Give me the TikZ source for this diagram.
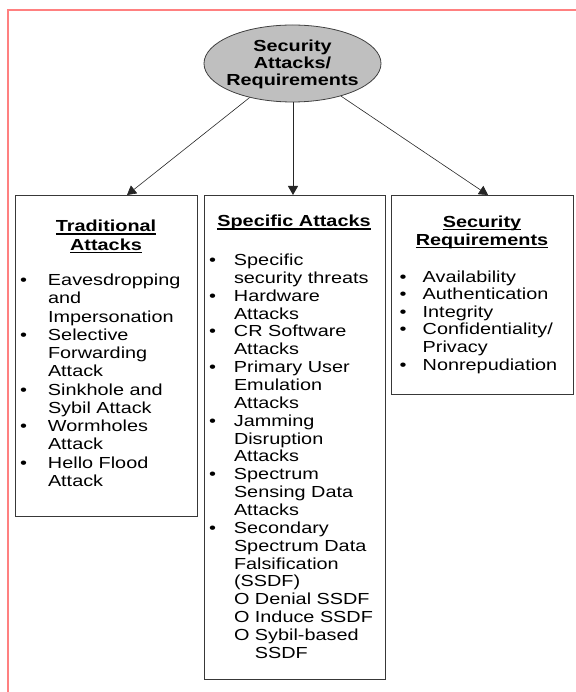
\documentclass[tikz,border=0pt]{standalone}
\usepackage{fontspec}
\setmainfont{Liberation Sans}[FakeStretch=1.24]
\usetikzlibrary{arrows.meta,shapes.geometric}
\newcommand\myul[1]{\setbox0\hbox{#1}\rlap{\rule[-2.6pt]{\wd0}{1.1pt}}\box0}
\newcommand\bl[1]{\makebox[#1][l]{•}}
\begin{document}
\begin{tikzpicture}[x=1pt,y=-1pt,
  boxst/.style={draw=black!78, line width=1.1pt, rectangle, inner sep=0pt, anchor=north west},
  ellst/.style={ellipse, draw=black!75, fill=black!25, line width=0.8pt, inner sep=0pt, minimum width=177pt, minimum height=77pt},
  txt/.style={inner sep=0pt, outer sep=0pt},
  ttl/.style={txt, anchor=base},
  lst/.style={txt, anchor=base west},
  arr/.style={draw=black!85, line width=0.6pt, -{Triangle[length=9pt,width=10pt]}},
  arrm/.style={arr, line width=1pt},
  frame/.style={draw=red!50, line width=2pt}
]
\useasboundingbox (0,0) rectangle (575,692);
% page frame
\draw[frame] (580,10.5) -- (7.5,10.5) -- (7.5,700);

% root
\node[ellst] (ell) at (292.5,63.5) {};
\node[ttl, font=\bfseries\fontsize{16}{16.7}\selectfont] (elltext) at (292.5,52)
  {\begin{tabular}[t]{@{}c@{}}Security\\Attacks/\\Requirements\end{tabular}};

% boxes
\node[boxst, minimum width=182pt, minimum height=321pt] (lbox) at (15,195) {};
\node[boxst, minimum width=181.5pt, minimum height=484pt] (mbox) at (203.5,195) {};
\node[boxst, minimum width=182pt, minimum height=198.5pt] (rbox) at (391,195) {};

% arrow targets
\coordinate (lt) at (127,195);
\coordinate (mt) at (293,195);
\coordinate (rt) at (488,195);
\draw[arr] (ell) -- (lt);
\draw[arrm] (ell.south -| mt) -- (mt);
\draw[arr] (ell) -- (rt);

% titles
\node[ttl, font=\bfseries\fontsize{16}{18.3}\selectfont] (ltitle) at (106,232)
  {\begin{tabular}[t]{@{}c@{}}\myul{Traditional}\\\myul{Attacks}\end{tabular}};
\node[ttl, font=\bfseries\fontsize{16}{18}\selectfont] (mtitle) at (294,227)
  {\myul{Specific Attacks}};
\node[ttl, font=\bfseries\fontsize{16}{17.7}\selectfont] (rtitle) at (482,227.5)
  {\begin{tabular}[t]{@{}c@{}}\myul{Security}\\\myul{Requirements}\end{tabular}};

% lists
\node[lst, font=\fontsize{16}{18.25}\selectfont] (llist) at (20,285.5)
  {\begin{tabular}[t]{@{}l@{}l@{}}
  \bl{28pt}&Eavesdropping\\
  &and\\
  &Impersonation\\
  \bl{28pt}&Selective\\
  &Forwarding\\
  &Attack\\
  \bl{28pt}&Sinkhole and\\
  &Sybil Attack\\
  \bl{28pt}&Wormholes\\
  &Attack\\
  \bl{28pt}&Hello Flood\\
  &Attack
  \end{tabular}};

\node[lst, font=\fontsize{16}{17.86}\selectfont] (mlist) at (209,265.5)
  {\begin{tabular}[t]{@{}l@{}l@{}}
  \bl{25pt}&Specific\\
  &security threats\\
  \bl{25pt}&Hardware\\
  &Attacks\\
  \bl{25pt}&CR Software\\
  &Attacks\\
  \bl{25pt}&Primary User\\
  &Emulation\\
  &Attacks\\
  \bl{25pt}&Jamming\\
  &Disruption\\
  &Attacks\\
  \bl{25pt}&Spectrum\\
  &Sensing Data\\
  &Attacks\\
  \bl{25pt}&Secondary\\
  &Spectrum Data\\
  &Falsification\\
  &(SSDF)\\
  &O Denial SSDF\\
  &O Induce SSDF\\
  &O Sybil-based\\
  &\hphantom{O }SSDF
  \end{tabular}};

\node[lst, font=\fontsize{16}{17.6}\selectfont] (rlist) at (399.7,282)
  {\begin{tabular}[t]{@{}l@{}l@{}}
  \bl{23pt}&Availability\\
  \bl{23pt}&Authentication\\
  \bl{23pt}&Integrity\\
  \bl{23pt}&Confidentiality/\\
  &Privacy\\
  \bl{23pt}&Nonrepudiation
  \end{tabular}};
\end{tikzpicture}
\end{document}
